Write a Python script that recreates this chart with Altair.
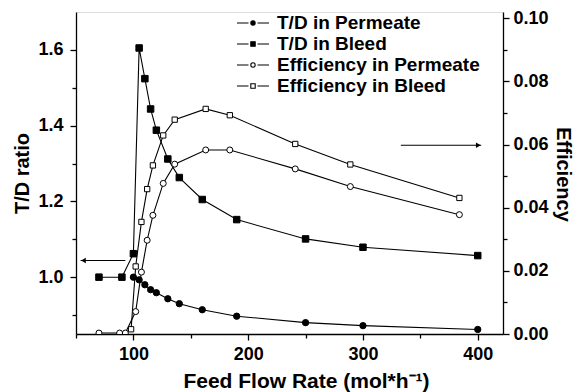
import altair as alt
import pandas as pd

# ---------------- data ----------------
x_td_bleed = [70, 90, 100, 105, 110, 115, 120, 130, 140, 160, 190, 250, 300, 400]
td_bleed = [1.0, 1.0, 1.062, 1.605, 1.524, 1.444, 1.388, 1.312, 1.263, 1.205, 1.152, 1.101, 1.079, 1.057]

x_td_perm = [100, 105, 110, 115, 120, 130, 140, 160, 190, 250, 300, 400]
td_perm = [1.0, 0.993, 0.980, 0.967, 0.959, 0.943, 0.930, 0.914, 0.897, 0.880, 0.872, 0.862]

x_eff_perm = [70, 88, 93, 102, 107, 112, 117, 126, 136, 163, 184, 241, 289, 384]
eff_perm = [0.0003, 0.0003, 0.0003, 0.0071, 0.0196, 0.0297, 0.0376, 0.0477, 0.0538, 0.0583, 0.0583, 0.0523, 0.0467, 0.0378]

x_eff_bleed = [98, 102, 107, 112, 117, 126, 136, 163, 184, 241, 289, 384]
eff_bleed = [0.0015, 0.0214, 0.0355, 0.0459, 0.0534, 0.0629, 0.0679, 0.0713, 0.0693, 0.0602, 0.0537, 0.0431]

series_names = ["T/D in Permeate", "T/D in Bleed", "Efficiency in Permeate", "Efficiency in Bleed"]

x_ticks = [50, 100, 150, 200, 250, 300, 350, 400]
yl_ticks = [0.9, 1.0, 1.1, 1.2, 1.3, 1.4, 1.5, 1.6]
yr_ticks = [0.0, 0.01, 0.02, 0.03, 0.04, 0.05, 0.06, 0.07, 0.08, 0.09, 0.10]

# annotation arrows (data coordinates)
arrow_left_x = [54, 93]
arrow_left_y = [1.044, 1.044]
arrow_left_head = [56.5]
arrow_right_x = [333, 403]
arrow_right_y = [0.0598, 0.0598]
arrow_right_head = [400.5]

FONT = "Liberation Sans"

xscale = alt.Scale(domain=[50, 422], nice=False, zero=False)
ylscale = alt.Scale(domain=[0.85, 1.70], nice=False, zero=False)
yrscale = alt.Scale(domain=[0.0, 0.102], nice=False, zero=False)

common_axis = dict(
    grid=False, domainColor="black", domainWidth=1.3, tickColor="black", tickWidth=1.3,
    labelFont=FONT, labelFontSize=18, labelFontWeight="bold", labelColor="black",
    titleFont=FONT, titleFontWeight="bold", titleColor="black",
)

x_axis = alt.Axis(
    values=x_ticks, title="Feed Flow Rate (mol*h⁻¹)",
    labelExpr="datum.value % 100 == 0 ? datum.label : ''",
    tickSize={"condition": {"test": "datum.value % 100 == 0", "value": 6}, "value": 4},
    labelPadding=5, labelFlush=False, labelOverlap=False,
    titleX=230, titleY=53, titleBaseline="alphabetic", titleAlign="center",
    titleFontSize=21, **common_axis,
)
yl_axis = alt.Axis(
    values=yl_ticks, title="T/D ratio", orient="left",
    labelExpr="abs(datum.value*5 - round(datum.value*5)) < 0.01 ? format(datum.value, '.1f') : ''",
    tickSize={"condition": {"test": "abs(datum.value*5 - round(datum.value*5)) < 0.01", "value": 6}, "value": 4},
    labelPadding=7, labelFlush=False, labelOverlap=False,
    titleX=-48, titleY=161, titleAngle=-90, titleBaseline="alphabetic", titleAlign="center",
    titleFontSize=20, **common_axis,
)
yr_axis = alt.Axis(
    values=yr_ticks, title="Efficiency", orient="right",
    labelExpr="abs(datum.value*50 - round(datum.value*50)) < 0.01 ? format(datum.value, '.2f') : ''",
    tickSize={"condition": {"test": "abs(datum.value*50 - round(datum.value*50)) < 0.01", "value": 6}, "value": 4},
    labelPadding=4, labelFlush=False, labelOverlap=False,
    titleX=53, titleY=162, titleAngle=90, titleBaseline="alphabetic", titleAlign="center",
    titleFontSize=20, **common_axis,
)

def series_layers(xs, ys, yscale, yaxis, shape, filled, size):
    df = pd.DataFrame({"x": xs, "y": ys})
    base = alt.Chart(df).encode(
        x=alt.X("x:Q", scale=xscale, axis=x_axis),
        y=alt.Y("y:Q", scale=yscale, axis=yaxis),
    )
    line = base.mark_line(color="black", strokeWidth=1.1, clip=True)
    pts = base.mark_point(
        shape=shape, filled=True, fill="black" if filled else "white",
        stroke="black", strokeWidth=1.0, size=size, opacity=1, clip=True,
    )
    return line, pts

l1, p1 = series_layers(x_td_bleed, td_bleed, ylscale, yl_axis, "square", True, 42)
l2, p2 = series_layers(x_td_perm, td_perm, ylscale, yl_axis, "circle", True, 40)
l3, p3 = series_layers(x_eff_perm, eff_perm, yrscale, yr_axis, "circle", False, 36)
l4, p4 = series_layers(x_eff_bleed, eff_bleed, yrscale, yr_axis, "square", False, 28)

al_df = pd.DataFrame({"x": arrow_left_x, "y": arrow_left_y})
al_line = alt.Chart(al_df).mark_line(color="black", strokeWidth=1.1).encode(
    x=alt.X("x:Q", scale=xscale, axis=x_axis), y=alt.Y("y:Q", scale=ylscale, axis=yl_axis))
alh_df = pd.DataFrame({"x": arrow_left_head, "y": arrow_left_y[:1]})
al_head = alt.Chart(alh_df).mark_point(shape="triangle-left", filled=True, color="black", size=30, opacity=1).encode(
    x=alt.X("x:Q", scale=xscale, axis=x_axis), y=alt.Y("y:Q", scale=ylscale, axis=yl_axis))

ar_df = pd.DataFrame({"x": arrow_right_x, "y": arrow_right_y})
ar_line = alt.Chart(ar_df).mark_line(color="black", strokeWidth=1.1).encode(
    x=alt.X("x:Q", scale=xscale, axis=x_axis), y=alt.Y("y:Q", scale=yrscale, axis=yr_axis))
arh_df = pd.DataFrame({"x": arrow_right_head, "y": arrow_right_y[:1]})
ar_head = alt.Chart(arh_df).mark_point(shape="triangle-right", filled=True, color="black", size=30, opacity=1).encode(
    x=alt.X("x:Q", scale=xscale, axis=x_axis), y=alt.Y("y:Q", scale=yrscale, axis=yr_axis))

left = alt.layer(l1, l2, al_line, p1, p2, al_head)
right = alt.layer(l3, l4, ar_line, p3, p4, ar_head)

# legend-only layer (symbols "—●—" as custom paths, scale = sqrt(size)/2 = 10 px per unit)
seg = "M-1.6,0H-0.45M0.45,0H1.6"
circ = "M0.22,0A0.22,0.22,0,1,1,-0.22,0A0.22,0.22,0,1,1,0.22,0Z"
sq = "M-0.22,-0.22H0.22V0.22H-0.22Z"
leg_shapes = [seg + circ, seg + sq, seg + circ, seg + sq]
leg_fills = ["black", "black", "white", "white"]
leg_strokes = ["black", "black", "black", "black"]

legend_def = alt.Legend(
    title=None, orient="none", legendX=166, legendY=0, padding=0,
    labelFont=FONT, labelFontSize=19, labelFontWeight="bold", labelColor="black",
    labelLimit=400, labelOffset=13, symbolSize=400,
    symbolStrokeWidth=1.1, rowPadding=0,
)
leg_df = pd.DataFrame({"series": series_names})
legend_layer = alt.Chart(leg_df).mark_point(
    filled=True, strokeWidth=1.1, size=400, clip=True, opacity=1
).encode(
    x=alt.value(-200), y=alt.value(-200),
    shape=alt.Shape("series:N", scale=alt.Scale(domain=series_names, range=leg_shapes), legend=legend_def),
    fill=alt.Fill("series:N", scale=alt.Scale(domain=series_names, range=leg_fills), legend=legend_def),
    stroke=alt.Stroke("series:N", scale=alt.Scale(domain=series_names, range=leg_strokes), legend=legend_def),
)

chart = alt.layer(left, right, legend_layer).resolve_scale(y="independent").properties(
    width=427, height=322,
    autosize=alt.AutoSizeParams(type="none"),
    padding={"left": 76, "top": 12, "right": 72, "bottom": 58},
).configure_view(stroke=None).configure(background="white")

chart.save("out.html", embed_options={"renderer": "svg", "actions": False})
